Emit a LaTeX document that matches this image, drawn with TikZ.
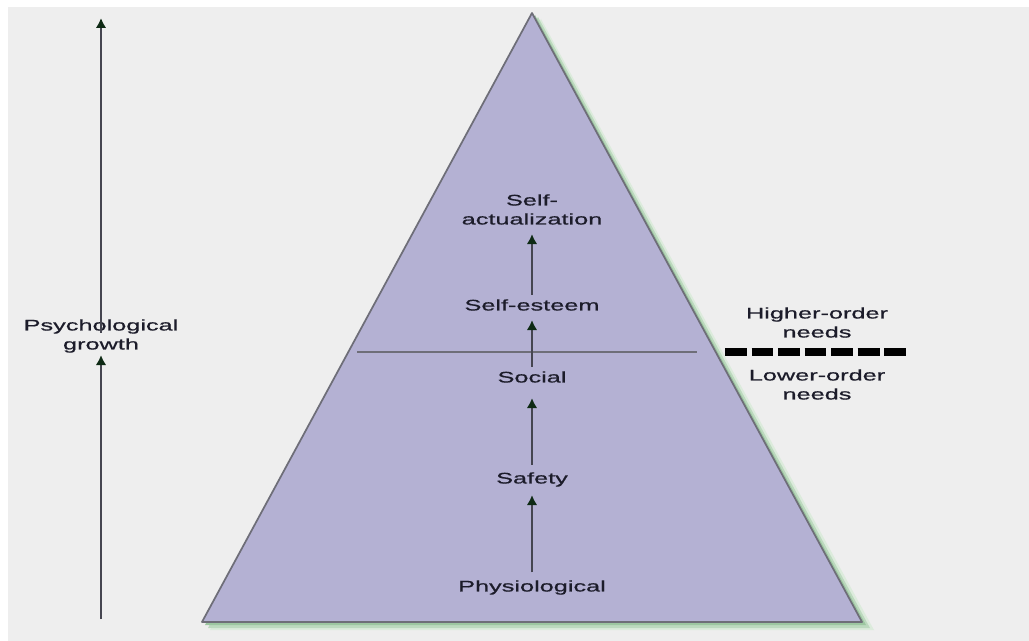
\documentclass[tikz,border=0pt]{standalone}
\usepackage{fontspec}
\setmainfont{Liberation Sans}
\newfontfamily\wfont[FakeStretch=1.65,FakeBold=0.7]{Liberation Sans}
\usetikzlibrary{arrows.meta}
\definecolor{bggray}{HTML}{EEEEEE}
\definecolor{pyrfill}{HTML}{B4B1D3}
\definecolor{pyredge}{HTML}{6E6E78}
\definecolor{shadowA}{HTML}{DCEBDC}
\definecolor{shadowB}{HTML}{BCD9BE}
\definecolor{shadowC}{HTML}{9CC6A0}
\definecolor{arrowgray}{HTML}{454550}
\definecolor{tipcol}{HTML}{0E2A14}
\definecolor{txtcol}{HTML}{1C1C2A}
\tikzset{
  lbl/.style={font=\wfont\fontsize{11.5pt}{14.25pt}\selectfont, text=txtcol, inner sep=0pt,
              text height=8.2pt, text depth=3pt, align=center},
  uparrow/.style={draw=arrowgray, line width=1.7pt,
              -{Latex[length=7.5pt,width=8pt,color=tipcol]}},
}
\begin{document}
\begin{tikzpicture}[x=0.75pt,y=-0.75pt]
\useasboundingbox (0,0) rectangle (1029,641);
\fill[white] (0,0) rectangle (1029,641);
\fill[bggray] (8,7) rectangle (1029,641);
% shadow
\fill[shadowA] (541,19) -- (874,630) -- (210,630) -- cycle;
\fill[shadowB] (538,17) -- (870,628) -- (208,628) -- cycle;
\fill[shadowC] (535,15) -- (866,625) -- (205,625) -- cycle;
% pyramid
\filldraw[fill=pyrfill, draw=pyredge, line width=1.3pt, line join=round]
  (532,13) coordinate (apex) -- (862,622) coordinate (br) -- (202,622) coordinate (bl) -- cycle;
% divider inside pyramid
\coordinate (divl) at (357,352);
\coordinate (divr) at (697,352);
\draw[draw=pyredge, line width=0.9pt] (divl) -- (divr);
% dashed separator
\coordinate (dashl) at (725,352);
\coordinate (dashr) at (907,352);
\draw[black, line width=5.3pt, dash pattern=on 16.4pt off 3.5pt] (dashl) -- (dashr);
% level labels
\node[lbl] (phys) at (532,588) {Physiological};
\node[lbl] (safe) at (532,480) {Safety};
\node[lbl] (soc) at (532,379) {Social};
\node[lbl] (est) at (532,307) {Self-esteem};
\node[lbl] (act) at (532,221) {Self-\\actualization};
% arrows between levels
\draw[uparrow, shorten <=6pt, shorten >=5.5pt] (phys) -- (safe);
\draw[uparrow, shorten <=5.5pt, shorten >=8.5pt] (safe) -- (soc);
\draw[uparrow, shorten <=3.5pt, shorten >=4pt] (soc) -- (est);
\draw[uparrow, shorten <=3.5pt, shorten >=4pt] (est) -- (act);
% side labels
\node[lbl] (higher) at (817,334) {Higher-order\\needs};
\node[lbl] (lower) at (817,396) {Lower-order\\needs};
% psychological growth
\node[lbl] (psy) at (101,346) {Psychological\\growth};
\coordinate (pgbot) at (101,619);
\coordinate (pgtop) at (101,18);
\draw[uparrow] (pgbot) -- ([yshift=-1pt]psy.south);
\draw[uparrow, shorten <=4pt] (psy) -- (pgtop);
\end{tikzpicture}
\end{document}
